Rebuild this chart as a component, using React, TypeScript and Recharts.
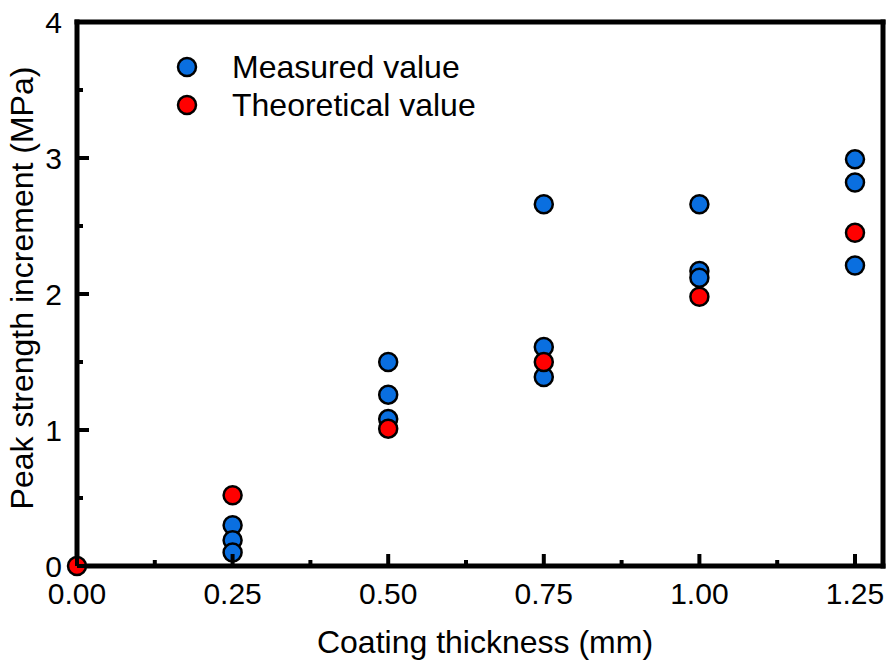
import React from 'react';
import { ScatterChart, Scatter, XAxis, YAxis, ReferenceLine, Legend } from 'recharts';

const measuredX = [0.25, 0.25, 0.25, 0.5, 0.5, 0.5, 0.75, 0.75, 0.75, 1.0, 1.0, 1.0, 1.25, 1.25, 1.25];
const measuredY = [0.30, 0.19, 0.10, 1.50, 1.26, 1.08, 2.66, 1.61, 1.39, 2.66, 2.17, 2.12, 2.99, 2.82, 2.21];
const theoreticalX = [0, 0.25, 0.5, 0.75, 1.0, 1.25];
const theoreticalY = [0, 0.52, 1.01, 1.50, 1.98, 2.45];

const xMajorTicks = [0, 0.25, 0.5, 0.75, 1.0, 1.25];
const xAllTicks = [0, 0.125, 0.25, 0.375, 0.5, 0.625, 0.75, 0.875, 1.0, 1.125, 1.25];
const yMajorTicks = [0, 1, 2, 3, 4];
const yAllTicks = [0, 0.5, 1, 1.5, 2, 2.5, 3, 3.5, 4];
const xDomainMax = 1.295;
const yDomainMax = 4;

const seriesNames = ['Measured value', 'Theoretical value'];
const BLUE = '#0a6fe0';
const RED = '#ff0000';
const FONT = '"Liberation Sans", Arial, sans-serif';
const FS = 30;
const FS_TITLE = 32;

const measuredData = measuredX.map((x, i) => ({ x, y: measuredY[i] }));
const theoreticalData = theoreticalX.map((x, i) => ({ x, y: theoreticalY[i] }));

const makeDot = (fill: string) => (p: any) => (
  <circle cx={p.cx} cy={p.cy} r={9} fill={fill} stroke="#000" strokeWidth={2.5} />
);

const XTick = (props: any) => {
  const { x, y, payload } = props;
  const v = payload.value;
  const major = xMajorTicks.some((t) => Math.abs(t - v) < 1e-9);
  return (
    <g>
      <line x1={x} x2={x} y1={y} y2={y - (major ? 12 : 6)} stroke="#000" strokeWidth={4} />
      {major && (
        <text x={x} y={y + 38} textAnchor="middle" fontSize={FS} fontFamily={FONT} fill="#000">
          {v.toFixed(2)}
        </text>
      )}
    </g>
  );
};

const YTick = (props: any) => {
  const { x, y, payload } = props;
  const v = payload.value;
  const major = yMajorTicks.some((t) => Math.abs(t - v) < 1e-9);
  return (
    <g>
      <line x1={x} x2={x + (major ? 12 : 6)} y1={y} y2={y} stroke="#000" strokeWidth={4} />
      {major && (
        <text x={x - 15} y={y} dy="0.36em" textAnchor="end" fontSize={FS} fontFamily={FONT} fill="#000">
          {String(v)}
        </text>
      )}
    </g>
  );
};

const LegendContent = () => {
  const colors = [BLUE, RED];
  return (
    <div style={{ fontFamily: FONT, fontSize: FS_TITLE, color: '#000' }}>
      {seriesNames.map((name, i) => (
        <div key={name} style={{ display: 'flex', alignItems: 'center', height: 38 }}>
          <svg width={24} height={24} style={{ marginRight: 33 }}>
            <circle cx={12} cy={12} r={9} fill={colors[i]} stroke="#000" strokeWidth={2.5} />
          </svg>
          <span style={{ lineHeight: '38px', whiteSpace: 'nowrap' }}>{name}</span>
        </div>
      ))}
    </div>
  );
};

export default function App() {
  return (
    <div style={{ position: 'absolute', left: 0, top: 0, background: '#fff' }}>
      <ScatterChart width={894} height={671} margin={{ top: 22, right: 11, bottom: 0, left: 0 }}>
        <XAxis
          type="number"
          dataKey="x"
          domain={[0, xDomainMax]}
          ticks={xAllTicks}
          interval={0}
          height={105}
          tickSize={0}
          tickMargin={0}
          tickLine={false}
          tick={(p: any) => <XTick {...p} />}
          axisLine={{ stroke: '#000', strokeWidth: 5, strokeLinecap: 'square' }}
          label={{
            value: 'Coating thickness (mm)',
            position: 'insideBottom',
            offset: 18,
            dx: 5,
            style: { fontSize: FS_TITLE, fontFamily: FONT, fill: '#000' },
          }}
        />
        <YAxis
          type="number"
          dataKey="y"
          domain={[0, yDomainMax]}
          ticks={yAllTicks}
          interval={0}
          width={77}
          tickSize={0}
          tickMargin={0}
          tickLine={false}
          tick={(p: any) => <YTick {...p} />}
          axisLine={{ stroke: '#000', strokeWidth: 5, strokeLinecap: 'square' }}
          label={{
            value: 'Peak strength increment (MPa)',
            angle: -90,
            position: 'insideLeft',
            offset: 22,
            dy: -6,
            style: { fontSize: FS_TITLE, fontFamily: FONT, fill: '#000', textAnchor: 'middle' },
          }}
        />
        <ReferenceLine y={yDomainMax} stroke="#000" strokeWidth={5} strokeLinecap="square" />
        <ReferenceLine x={xDomainMax} stroke="#000" strokeWidth={5} strokeLinecap="square" />
        <Legend
          layout="horizontal"
          verticalAlign="middle"
          align="center"
          content={() => <LegendContent />}
          wrapperStyle={{ position: 'absolute', left: 175, top: 48, width: 'auto', height: 'auto' }}
        />
        <Scatter
          name={seriesNames[0]}
          data={measuredData}
          isAnimationActive={false}
          shape={makeDot(BLUE)}
        />
        <Scatter
          name={seriesNames[1]}
          data={theoreticalData}
          isAnimationActive={false}
          shape={makeDot(RED)}
        />
      </ScatterChart>
    </div>
  );
}
